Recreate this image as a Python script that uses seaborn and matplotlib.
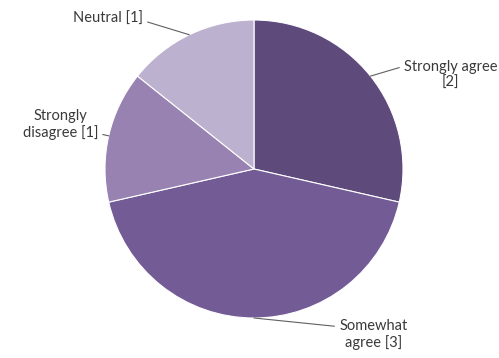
import matplotlib

matplotlib.use("Agg")
import matplotlib.pyplot as plt
import numpy as np
import seaborn as sns

sns.set_theme(style="white")
plt.rcParams["font.family"] = ["Lato", "DejaVu Sans"]

# survey responses (counts), clockwise from 12 o'clock
categories = ["Strongly agree", "Somewhat agree", "Strongly disagree", "Neutral"]
counts = [2, 3, 1, 1]
label_texts = ["Strongly agree\n[2]", "Somewhat\nagree [3]", "Strongly\ndisagree [1]", "Neutral [1]"]
colors = ["#5f4a7c", "#735b96", "#9782b1", "#bdb1d0"]

# label placement (radius units) and where the leader attaches on the text box
label_pos = [(1.32, 0.63), (0.80, -1.11), (-1.30, 0.30), (-0.98, 1.01)]
label_rel = [(0.0, 0.8), (0.0, 0.75), (1.0, 0.2), (1.0, 0.35)]

fig = plt.figure(figsize=(4.99, 3.58), dpi=100)
ax = fig.add_axes([0, 0, 1, 1])

wedges, _ = ax.pie(
    counts,
    colors=colors,
    startangle=90,
    counterclock=False,
    radius=1.0,
    wedgeprops=dict(edgecolor="white", linewidth=0.8),
)

for w, text, pos, rel in zip(wedges, label_texts, label_pos, label_rel):
    ang = np.deg2rad((w.theta1 + w.theta2) / 2)
    ax.annotate(
        text,
        xy=(np.cos(ang), np.sin(ang)),
        xytext=pos,
        ha="center",
        va="center",
        fontsize=10.5,
        color="#3a3a3a",
        linespacing=1.15,
        arrowprops=dict(arrowstyle="-", color="#606060", lw=0.8, relpos=rel, shrinkA=1, shrinkB=0),
    )

ax.set_aspect("auto")
ax.set_xlim(-254 / 149, 245 / 149)
ax.set_ylim(-189 / 149, 169 / 149)
ax.axis("off")

fig.savefig("out.png", dpi=100)
plt.close(fig)
